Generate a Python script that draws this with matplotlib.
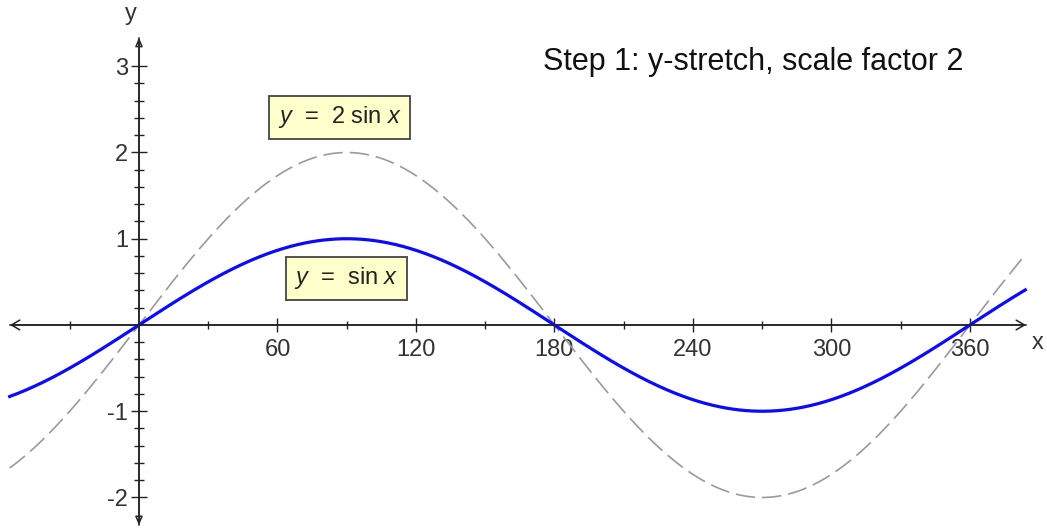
import numpy as np
import matplotlib
matplotlib.use("Agg")
import matplotlib.pyplot as plt

plt.rcParams['font.family'] = ['Liberation Sans', 'DejaVu Sans']
plt.rcParams['mathtext.fontset'] = 'custom'
plt.rcParams['mathtext.rm'] = 'Liberation Sans'
plt.rcParams['mathtext.it'] = 'Liberation Sans:italic'
plt.rcParams['lines.scale_dashes'] = False

# Curve definitions: y = a * sin(x), x in degrees
x_range = [-56, 384]
amplitudes = [1, 2]
curve_labels = ["$y$  =  sin $x$", "$y$  =  2 sin $x$"]
label_pos = [(90, 0.54), (87, 2.41)]

# Axis ticks
x_major = [60, 120, 180, 240, 300, 360]
x_minor = [-30, 30, 90, 150, 210, 270, 330]
y_major = [-2, -1, 1, 2, 3]
y_minor = [v / 5 for v in range(-10, 15) if v % 5 != 0]

title = "Step 1: y-stretch, scale factor 2"

fig = plt.figure(figsize=(10.47, 5.30), dpi=100)
ax = fig.add_axes([0, 0, 1, 1])
ax.set_xlim(-60.2, 393.4)
ax.set_ylim(-2.377, 3.768)

xs = np.linspace(x_range[0], x_range[1], 800)
rad = np.deg2rad(xs)

# stretched curve (dashed grey)
ln, = ax.plot(xs, amplitudes[1] * np.sin(rad), color='#9a9a9a', lw=1.2, zorder=2)
ln.set_dashes((14, 5))
# base curve (solid blue)
ax.plot(xs, amplitudes[0] * np.sin(rad), color='#0a0aff', lw=2.3, zorder=3)

# axes through the origin
for s in ['top', 'right']:
    ax.spines[s].set_visible(False)
ax.spines['left'].set_position(('data', 0))
ax.spines['bottom'].set_position(('data', 0))
ax.spines['bottom'].set_bounds(-55.9, 384.3)
ax.spines['left'].set_bounds(-2.32, 3.33)
for s in ['left', 'bottom']:
    ax.spines[s].set_color('#222222')
    ax.spines[s].set_linewidth(1.1)

ax.set_xticks(x_major)
ax.set_xticklabels([str(v) for v in x_major])
ax.set_xticks(x_minor, minor=True)
ax.set_yticks(y_major)
ax.set_yticklabels(["-2", "-1", "1", "2", "3"])
ax.set_yticks(y_minor, minor=True)

ax.tick_params(axis='x', which='major', direction='inout', length=10, width=1.0,
               color='#222222', labelsize=17, labelcolor='#333333', pad=5)
ax.tick_params(axis='x', which='minor', direction='inout', length=6, width=1.0,
               color='#222222')
ax.tick_params(axis='y', which='major', direction='inout', length=11.5, width=1.0,
               color='#222222', labelsize=17, labelcolor='#333333', pad=2)
ax.tick_params(axis='y', which='minor', direction='inout', length=7, width=1.0,
               color='#222222')

# arrowheads
ax.annotate('', xy=(384.3, 0), xytext=(-55.9, 0),
            arrowprops=dict(arrowstyle='<->,head_length=0.6,head_width=0.35',
                            color='#222222', lw=1.1, shrinkA=0, shrinkB=0))
ax.annotate('', xy=(0, 3.33), xytext=(0, -2.32),
            arrowprops=dict(arrowstyle='<|-|>,head_length=0.5,head_width=0.22',
                            color='#222222', lw=1.1, fill=False,
                            shrinkA=0, shrinkB=0))

ax.text(389.5, -0.21, "x", fontsize=17, color='#333333', ha='center', va='center')
ax.text(-3.5, 3.6, "y", fontsize=17, color='#333333', ha='center', va='center')

for (px, py), lab in zip(label_pos, curve_labels):
    ax.text(px, py, lab, fontsize=17, color='#222222', ha='center', va='center',
            bbox=dict(boxstyle='square,pad=0.36', fc='#ffffcc', ec='#444444', lw=1.3),
            zorder=5)

ax.text(266.2, 3.05, title, fontsize=22, color='#111111', ha='center', va='center')

fig.savefig("out.png", dpi=100)
